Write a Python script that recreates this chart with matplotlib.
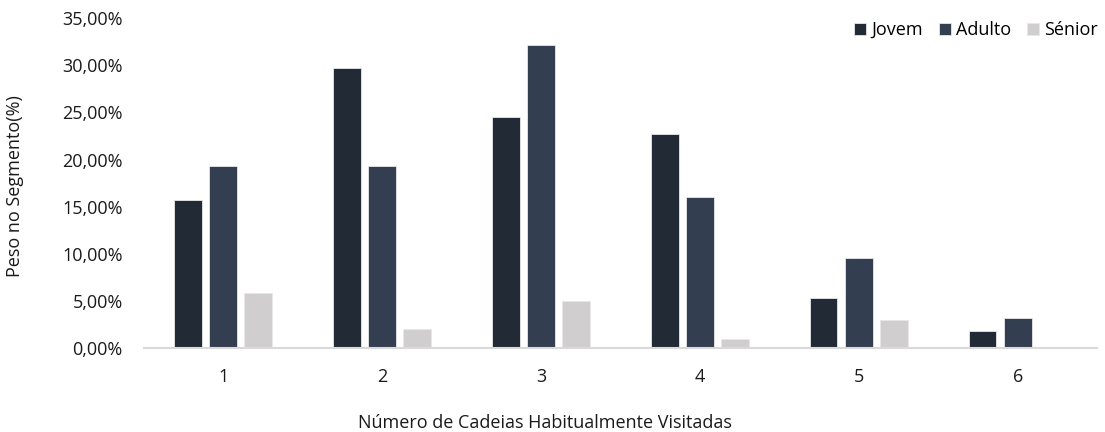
import numpy as np
import matplotlib.pyplot as plt
from matplotlib.ticker import FuncFormatter

plt.rcParams['font.family'] = ['Open Sans', 'DejaVu Sans']

# dados
grupos = ["1", "2", "3", "4", "5", "6"]
jovem = [15.7, 29.7, 24.5, 22.7, 5.3, 1.8]
adulto = [19.3, 19.3, 32.2, 16.0, 9.6, 3.2]
senior = [5.9, 2.0, 5.0, 0.95, 3.0, 0.0]

series = [("Jovem", jovem, "#222a35"),
          ("Adulto", adulto, "#333f50"),
          ("Sénior", senior, "#d0cece")]

fig = plt.figure(figsize=(11.05, 4.32), dpi=100)
ax = fig.add_axes([0.130, 0.194, 0.863, 0.764])

x = np.arange(len(grupos))
w = 0.175
step = 0.222
for i, (nome, vals, cor) in enumerate(series):
    ax.bar(x + (i - 1) * step, vals, width=w, color=cor, label=nome,
           edgecolor="#e8e8ea", linewidth=0.6)

ax.set_xlim(-0.5, 5.5)
ax.set_ylim(0, 35)
ax.set_yticks(np.arange(0, 36, 5))
ax.yaxis.set_major_formatter(FuncFormatter(lambda v, p: f"{v:.2f}%".replace(".", ",")))
ax.set_xticks(x)
ax.set_xticklabels(grupos)

for s in ["top", "right", "left"]:
    ax.spines[s].set_visible(False)
ax.spines["bottom"].set_color("#d9d9d9")
ax.spines["bottom"].set_linewidth(1.5)
ax.tick_params(axis="both", length=0, labelsize=13, colors="#1a1a1a")
ax.tick_params(axis="x", pad=14)
ax.tick_params(axis="y", pad=15)

ax.set_ylabel("Peso no Segmento(%)", fontsize=13, color="#1a1a1a")
ax.yaxis.set_label_coords(-0.125, 0.49)
ax.set_xlabel("Número de Cadeias Habitualmente Visitadas", fontsize=13,
              color="#1a1a1a")
ax.xaxis.set_label_coords(0.421, -0.20)

ax.legend(loc="upper right", bbox_to_anchor=(1.018, 1.04), ncol=3, frameon=False,
          fontsize=13, handlelength=0.68, handleheight=0.68, handletextpad=0.3,
          columnspacing=0.85)

fig.savefig("out.png", dpi=100)
